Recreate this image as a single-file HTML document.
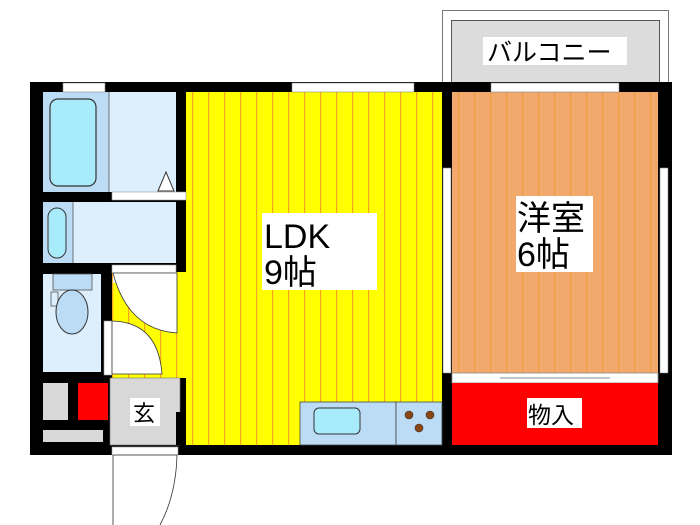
<!DOCTYPE html>
<html><head><meta charset="utf-8"><style>
html,body{margin:0;padding:0;background:#fff;}
svg{display:block;}
text{font-family:"Liberation Sans","Noto Sans CJK JP",sans-serif;fill:#000;}
</style></head><body>
<svg width="700" height="525" viewBox="0 0 700 525" xmlns="http://www.w3.org/2000/svg">
<defs>
<pattern id="ys" x="186" y="0" width="16" height="10" patternUnits="userSpaceOnUse">
<rect width="16" height="10" fill="#ffff00"/><rect x="6" width="1.2" height="10" fill="#f5a623"/></pattern>
<pattern id="os" x="452" y="0" width="16" height="10" patternUnits="userSpaceOnUse">
<rect width="16" height="10" fill="#f2aa6c"/><rect x="6" width="1.2" height="10" fill="#f59a45"/></pattern>
</defs>
<!-- balcony -->
<rect x="442.5" y="10.5" width="226" height="74" fill="#fff" stroke="#777"/>
<rect x="451.5" y="20.5" width="208" height="64" fill="#dcdcdc" stroke="#555"/>
<rect x="483" y="37" width="144" height="28" fill="#fff"/>
<text x="487" y="61" font-size="25">バルコニー</text>
<!-- outer fill -->
<rect x="30" y="82" width="642" height="373" fill="#000"/>
<!-- LDK -->
<rect x="186" y="92" width="256" height="353" fill="url(#ys)"/>
<rect x="112" y="272" width="74" height="106" fill="url(#ys)"/>
<!-- western room -->
<rect x="452" y="92" width="206" height="281" fill="url(#os)"/>
<rect x="452" y="373" width="206" height="10" fill="#fff" stroke="#888" stroke-width="0.8"/>
<line x1="500" y1="378" x2="610" y2="378" stroke="#888"/>
<rect x="452" y="383" width="206" height="62" fill="#ff0000"/>
<rect x="527" y="398" width="55" height="30" fill="#fff"/>
<text x="528" y="423" font-size="23">物入</text>
<!-- bath -->
<rect x="43" y="92" width="66" height="100" fill="#bcdcf5"/>
<rect x="109" y="92" width="67" height="100" fill="#ddeefc"/>
<line x1="109" y1="92" x2="109" y2="192" stroke="#555" stroke-width="0.8"/>
<rect x="50" y="99" width="46" height="87" rx="8" fill="#a8ecfc" stroke="#333" stroke-width="1.2"/>
<polygon points="158,191 166,172 174,191" fill="#fff" stroke="#333"/>
<rect x="112" y="192" width="74" height="8" fill="#fff" stroke="#999" stroke-width="0.6"/>
<!-- wash -->
<rect x="43" y="202" width="30" height="61" fill="#bcdcf5"/>
<rect x="73" y="202" width="103" height="61" fill="#ddeefc"/>
<line x1="73" y1="202" x2="73" y2="263" stroke="#555" stroke-width="0.8"/>
<rect x="48" y="208" width="18" height="50" rx="9" fill="#a8ecfc" stroke="#333"/>
<rect x="112" y="265" width="64" height="8" fill="#fff" stroke="#999" stroke-width="0.6"/>
<!-- toilet -->
<rect x="43" y="274" width="58" height="98" fill="#ddeefc"/>
<rect x="53" y="274" width="39" height="16" fill="#bcdcf5" stroke="#555" stroke-width="0.8"/>
<rect x="51" y="292" width="7" height="14" fill="#ddeefc" stroke="#555" stroke-width="0.8"/>
<ellipse cx="72" cy="312" rx="16" ry="22" fill="#bcdcf5" stroke="#333"/>
<!-- doors -->
<rect x="113" y="273" width="64" height="10" fill="#fff"/>
<path d="M113,273 L177,273 L177,333 Q128,330 113,273 Z" fill="#fff" stroke="#333" stroke-width="0.8"/>
<rect x="104" y="321" width="8" height="54" fill="#fff" stroke="#999" stroke-width="0.6"/>
<path d="M112,321 Q158,322 162,374 L112,374 Z" fill="#fff" stroke="#333" stroke-width="0.8"/>
<!-- bottom left -->
<rect x="43" y="383" width="25" height="37" fill="#d8d8d8"/>
<rect x="78" y="383" width="30" height="37" fill="#ff0000"/>
<rect x="43" y="430" width="60" height="12" fill="#d8d8d8"/>
<rect x="110" y="378" width="70" height="67" fill="#d8d8d8" stroke="#777" stroke-width="0.6"/>
<rect x="176" y="412" width="10" height="33" fill="#000"/>
<rect x="130" y="398" width="30" height="28" fill="#fff"/>
<text x="133" y="421" font-size="22">玄</text>
<rect x="112" y="447" width="66" height="8" fill="#fff" stroke="#999" stroke-width="0.6"/>
<path d="M113,455 L113,525 M113,455 L177,455 Q176,495 160,525" fill="none" stroke="#333" stroke-width="0.8"/>
<!-- kitchen -->
<rect x="300" y="402" width="96" height="43" fill="#bcdcf5" stroke="#444" stroke-width="0.8"/>
<rect x="396" y="402" width="46" height="43" fill="#bcdcf5" stroke="#444" stroke-width="0.8"/>
<rect x="314" y="408" width="46" height="26" rx="5" fill="#a8ecfc" stroke="#333"/>
<circle cx="409" cy="415" r="4" fill="#8b4513" stroke="#333" stroke-width="0.6"/>
<circle cx="430" cy="415" r="4" fill="#8b4513" stroke="#333" stroke-width="0.6"/>
<circle cx="419" cy="428" r="4" fill="#8b4513" stroke="#333" stroke-width="0.6"/>
<!-- windows -->
<rect x="63" y="83" width="42" height="9" fill="#fff" stroke="#888" stroke-width="0.6"/>
<rect x="292" y="83" width="122" height="9" fill="#fff" stroke="#888" stroke-width="0.6"/>
<rect x="491" y="83" width="128" height="9" fill="#fff" stroke="#888" stroke-width="0.6"/>
<rect x="443" y="168" width="8" height="205" fill="#fff" stroke="#888" stroke-width="0.6"/>
<rect x="660" y="168" width="8" height="205" fill="#fff" stroke="#888" stroke-width="0.6"/>
<!-- labels -->
<rect x="262" y="213" width="115" height="77" fill="#fff"/>
<text x="264" y="248" font-size="34">LDK</text>
<text x="264" y="284" font-size="34">9帖</text>
<rect x="516" y="196" width="77" height="76" fill="#fff"/>
<text x="517" y="230" font-size="34">洋室</text>
<text x="517" y="266" font-size="34">6帖</text>
</svg>
</body></html>
